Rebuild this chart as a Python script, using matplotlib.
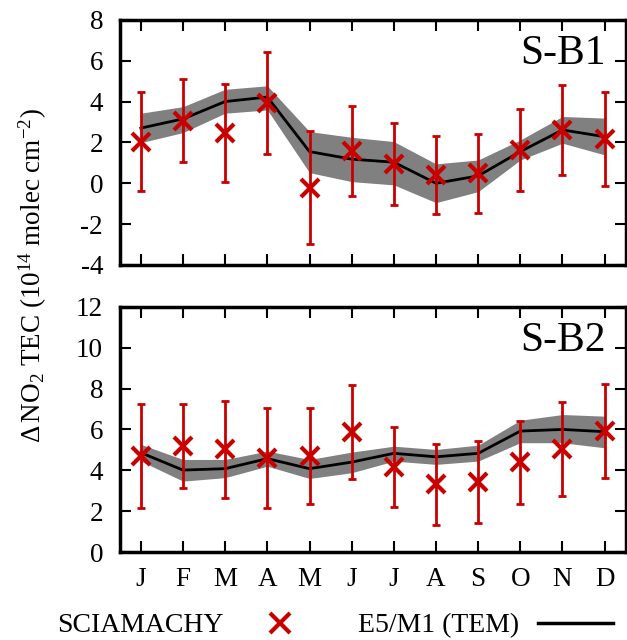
#!/usr/bin/env python3

import matplotlib
matplotlib.use('Agg')
import matplotlib.pyplot as plt
import numpy as np

months = ['J', 'F', 'M', 'A', 'M', 'J', 'J', 'A', 'S', 'O', 'N', 'D']

# S-B1 panel
sb1_obs = [2.04, 3.07, 2.48, 3.95, -0.21, 1.60, 0.93, 0.41, 0.49, 1.63, 2.61, 2.17]
sb1_err = [2.43, 2.04, 2.40, 2.50, 2.76, 2.20, 2.00, 1.92, 1.94, 2.00, 2.22, 2.32]
sb1_mod = [2.70, 3.15, 4.00, 4.22, 1.55, 1.18, 1.03, 0.00, 0.36, 1.55, 2.61, 2.28]
sb1_hi = [3.43, 3.75, 4.60, 4.77, 2.53, 2.25, 2.04, 0.95, 1.14, 2.12, 3.27, 3.19]
sb1_lo = [1.99, 2.48, 3.43, 3.59, 0.52, 0.08, -0.08, -0.95, -0.41, 1.14, 1.96, 1.39]

# S-B2 panel
sb2_obs = [4.69, 5.18, 5.02, 4.61, 4.69, 5.87, 4.18, 3.31, 3.42, 4.40, 5.02, 5.92]
sb2_err = [2.56, 2.06, 2.38, 2.45, 2.36, 2.30, 1.96, 2.00, 2.00, 2.03, 2.30, 2.30]
sb2_mod = [4.86, 4.01, 4.08, 4.57, 4.08, 4.40, 4.83, 4.66, 4.83, 5.92, 6.00, 5.89]
sb2_hi = [5.27, 4.53, 4.53, 4.94, 4.53, 4.89, 5.18, 5.02, 5.23, 6.45, 6.73, 6.65]
sb2_lo = [4.45, 3.47, 3.64, 4.20, 3.60, 3.88, 4.45, 4.29, 4.45, 5.35, 5.35, 5.10]

red = '#c80000'

plt.rcParams['font.family'] = ['Liberation Serif', 'DejaVu Serif']
plt.rcParams['mathtext.fontset'] = 'custom'
plt.rcParams['mathtext.rm'] = 'Liberation Serif'
plt.rcParams['mathtext.it'] = 'Liberation Serif:italic'
plt.rcParams['axes.unicode_minus'] = False
plt.rcParams['font.size'] = 19.5


def panel(ax, obs, err, mod, lo, hi, ylim, yticks, name, show_x):
    x = np.arange(1, 13)
    ax.fill_between(x, lo, hi, color='#808080', lw=0, zorder=1)
    ax.plot(x, mod, color='black', lw=2, zorder=2)
    ax.errorbar(x, obs, yerr=err, fmt='none', ecolor=red, elinewidth=2,
                capsize=3, capthick=2, zorder=3)
    ax.plot(x, obs, 'x', color=red, ms=13, mew=3, zorder=4)
    ax.set_xlim(0.5, 12.5)
    ax.set_ylim(*ylim)
    ax.set_yticks(yticks)
    ax.set_xticks(x)
    ax.set_xticklabels(months if show_x else [])
    ax.tick_params(direction='in', length=8, width=1.5, top=True, right=True,
                   labelsize=19.5)
    ax.tick_params(axis='y', pad=12)
    ax.tick_params(axis='x', pad=11)
    for sp in ax.spines.values():
        sp.set_linewidth(2.5)
    ax.text(0.96, 0.94, name, transform=ax.transAxes, ha='right', va='top',
            fontsize=30)


fig = plt.figure(figsize=(6.27, 6.40), dpi=100)
ax1 = fig.add_axes([0.191, 0.586, 0.807, 0.383])
ax2 = fig.add_axes([0.191, 0.1375, 0.807, 0.383])

panel(ax1, sb1_obs, sb1_err, sb1_mod, sb1_lo, sb1_hi, (-4, 8), range(-4, 9, 2), 'S-B1', False)
panel(ax2, sb2_obs, sb2_err, sb2_mod, sb2_lo, sb2_hi, (0, 12), range(0, 13, 2), 'S-B2', True)

fig.text(0.053, 0.570, r'$\Delta\,$NO$_2$ TEC (10$^{14}$ molec cm$^{-2}$)',
         rotation=90, ha='center', va='center', fontsize=19.5)

# legend row at the bottom
fig.text(0.091, 0.013, 'SCIAMACHY', ha='left', va='baseline', fontsize=20)
fig.lines.append(plt.Line2D([0.4466], [0.027], marker='x', color=red, ms=14, mew=3,
                            transform=fig.transFigure))
fig.text(0.571, 0.013, 'E5/M1 (TEM)', ha='left', va='baseline', fontsize=20)
fig.lines.append(plt.Line2D([0.858, 0.978], [0.027, 0.027], color='black', lw=2.5,
                            transform=fig.transFigure))

plt.savefig('out.png', dpi=100)
